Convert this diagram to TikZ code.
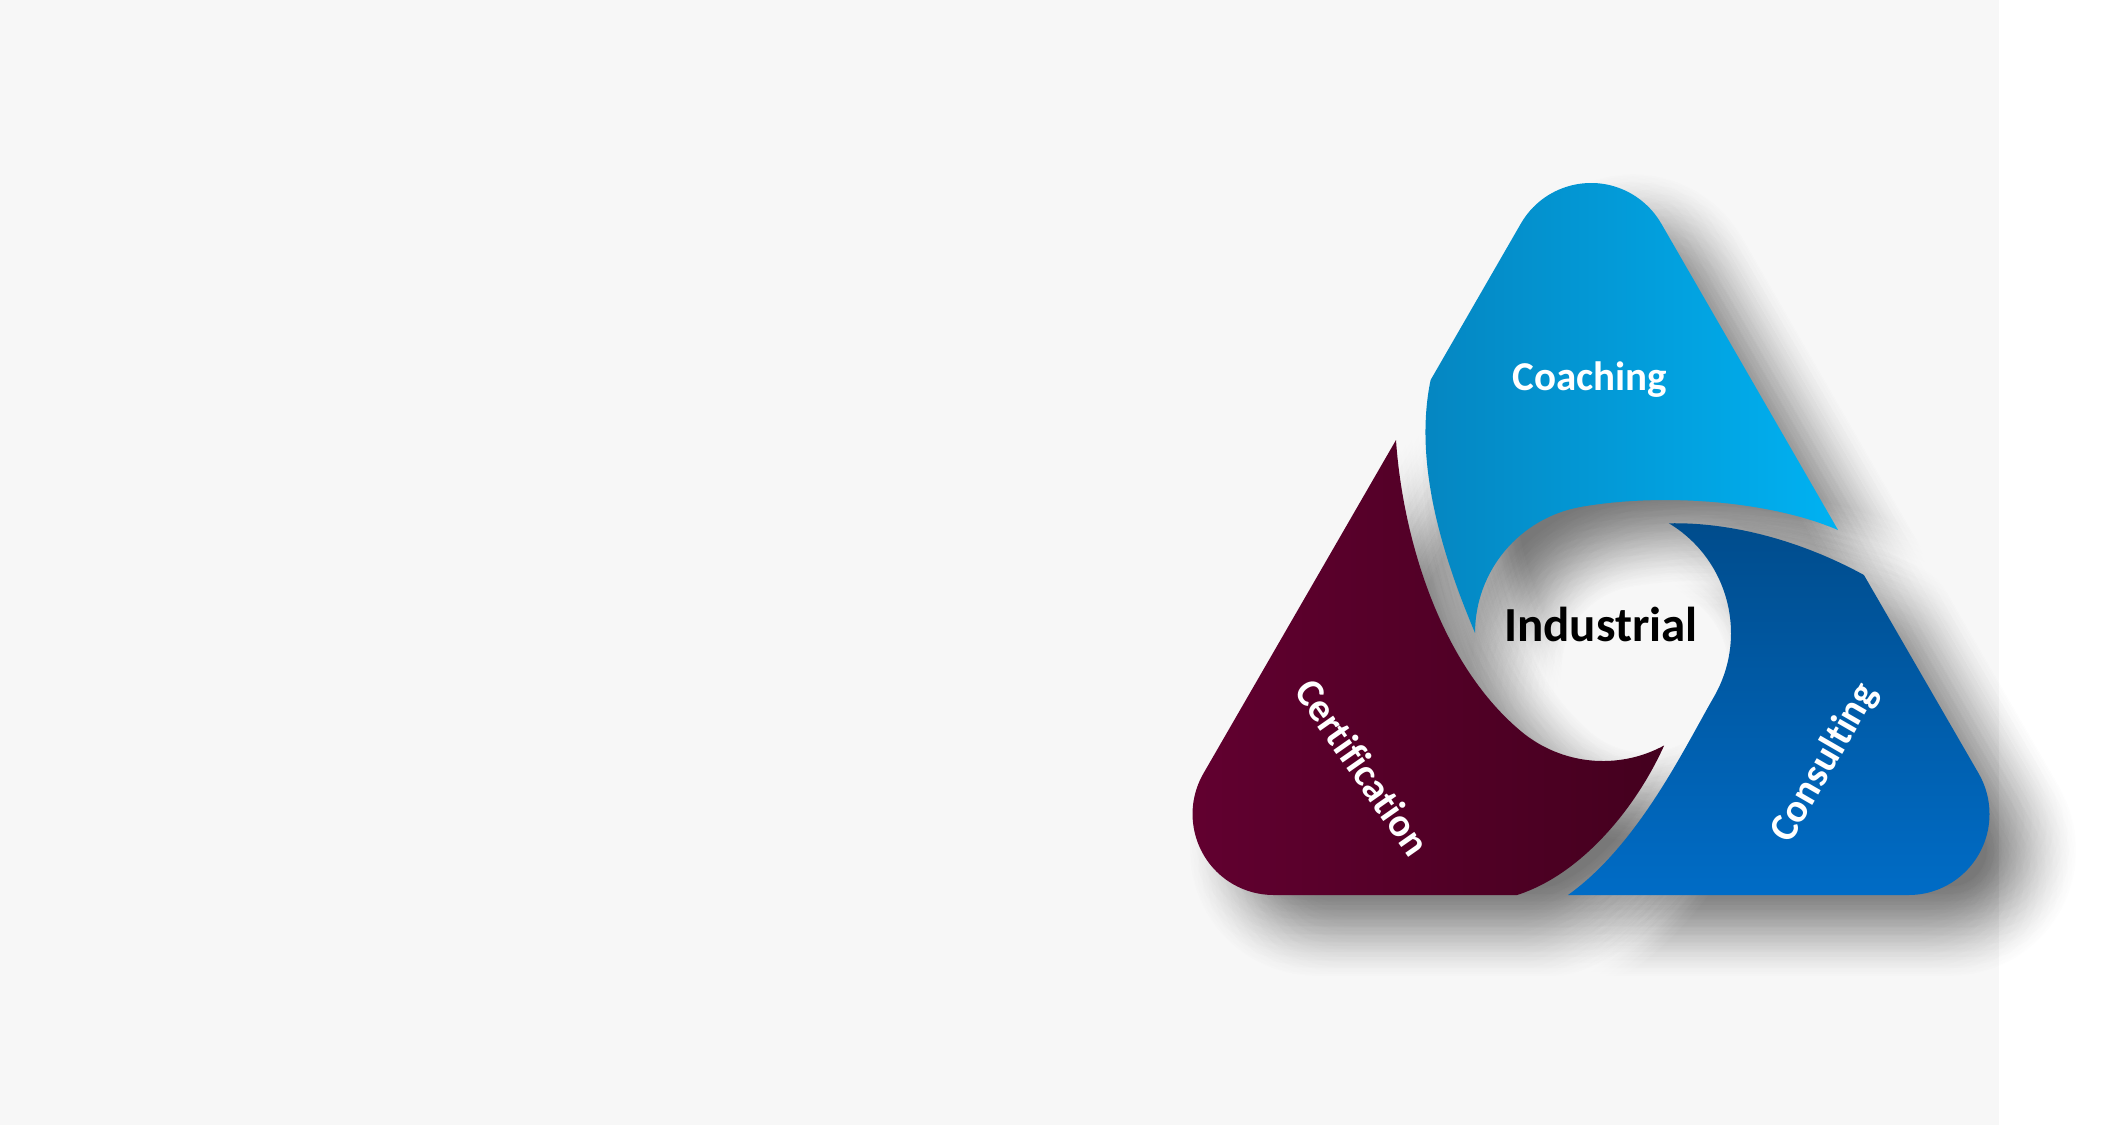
\documentclass[tikz,border=0pt]{standalone}
\usepackage{fontspec}
\setmainfont{Carlito}[Ligatures=NoCommon]
\definecolor{bgc}{HTML}{F7F7F7}
\definecolor{coachL}{HTML}{0585C0}
\definecolor{coachR}{HTML}{00B2F2}
\definecolor{certL}{HTML}{620030}
\definecolor{certR}{HTML}{44001E}
\definecolor{consT}{HTML}{004C8C}
\definecolor{consB}{HTML}{006CC6}
\newcommand\coachpath{(1430.6,380) -- (1520.9,223.5) arc[start angle=210,end angle=330,radius=81] -- (1838,530) .. controls (1768,500) and (1659.6,493) .. (1580.8,506.9) arc[start angle=260,end angle=180,radius=128] .. controls (1440,550) and (1414,460) .. (1430.6,380) -- cycle}
\newcommand\certpath{(1396,440) -- (1203.4,773.5) arc[start angle=210,end angle=90,radius=81] -- (1517,895) .. controls (1580,875) and (1635,810) .. (1664.1,745.5) arc[start angle=61.5,end angle=130,radius=128] .. controls (1436.4,660.4) and (1402,530) .. (1396,440) -- cycle}
\newcommand\conspath{(1568,895) -- (1908.5,895) arc[start angle=90,end angle=-30,radius=81] -- (1863.9,575) .. controls (1800,540) and (1730,522) .. (1668.9,523.3) arc[start angle=-59,end angle=30,radius=128] .. controls (1683.9,749) and (1638,845) .. (1568,895) -- cycle}
\begin{document}
\begin{tikzpicture}[x=1pt,y=-1pt,
  shadowlayer/.style={fill=black, fill opacity=0.0048, draw=none},
  lbl/.style={inner sep=0pt, text=white},
  piece/.style={draw=none}]
\useasboundingbox (0,0) rectangle (2115,1125);
\fill[white] (0,0) rectangle (2115,1125);
\fill[bgc] (0,0) rectangle (1999,1125);
% soft shadows (disk kernel of shifted copies)
\foreach \r/\n in {0/1,7.5/6,15/12,22.5/18,30/24,37.5/30,45/36}{
  \foreach \k in {1,...,\n}{
    \path[shadowlayer, shift={({42+\r*cos(360*\k/\n+5*\r)},{36+\r*sin(360*\k/\n+5*\r)})}] \coachpath;
    \path[shadowlayer, shift={({42+\r*cos(360*\k/\n+5*\r)},{36+\r*sin(360*\k/\n+5*\r)})}] \certpath;
    \path[shadowlayer, shift={({42+\r*cos(360*\k/\n+5*\r)},{36+\r*sin(360*\k/\n+5*\r)})}] \conspath;
  }
}
% pieces
\path[piece, left color=coachL, right color=coachR] \coachpath;
\path[piece, left color=certL, right color=certR] \certpath;
\path[piece, top color=consT, bottom color=consB] \conspath;
% labels
\node[lbl, anchor=base, font=\fontsize{41}{45}\selectfont\bfseries] (coach) at (1590,390) {Coaching};
\node[lbl, anchor=base, text=black, font=\fontsize{49}{55}\selectfont\bfseries] (ind) at (1601,641) {Industrial};
\node[lbl, rotate=-55, font=\fontsize{40}{44}\selectfont\bfseries] (cert) at (1363,767) {Certification};
\node[lbl, rotate=60, font=\fontsize{40}{44}\selectfont\bfseries] (cons) at (1825,763) {Consulting};
\end{tikzpicture}
\end{document}
